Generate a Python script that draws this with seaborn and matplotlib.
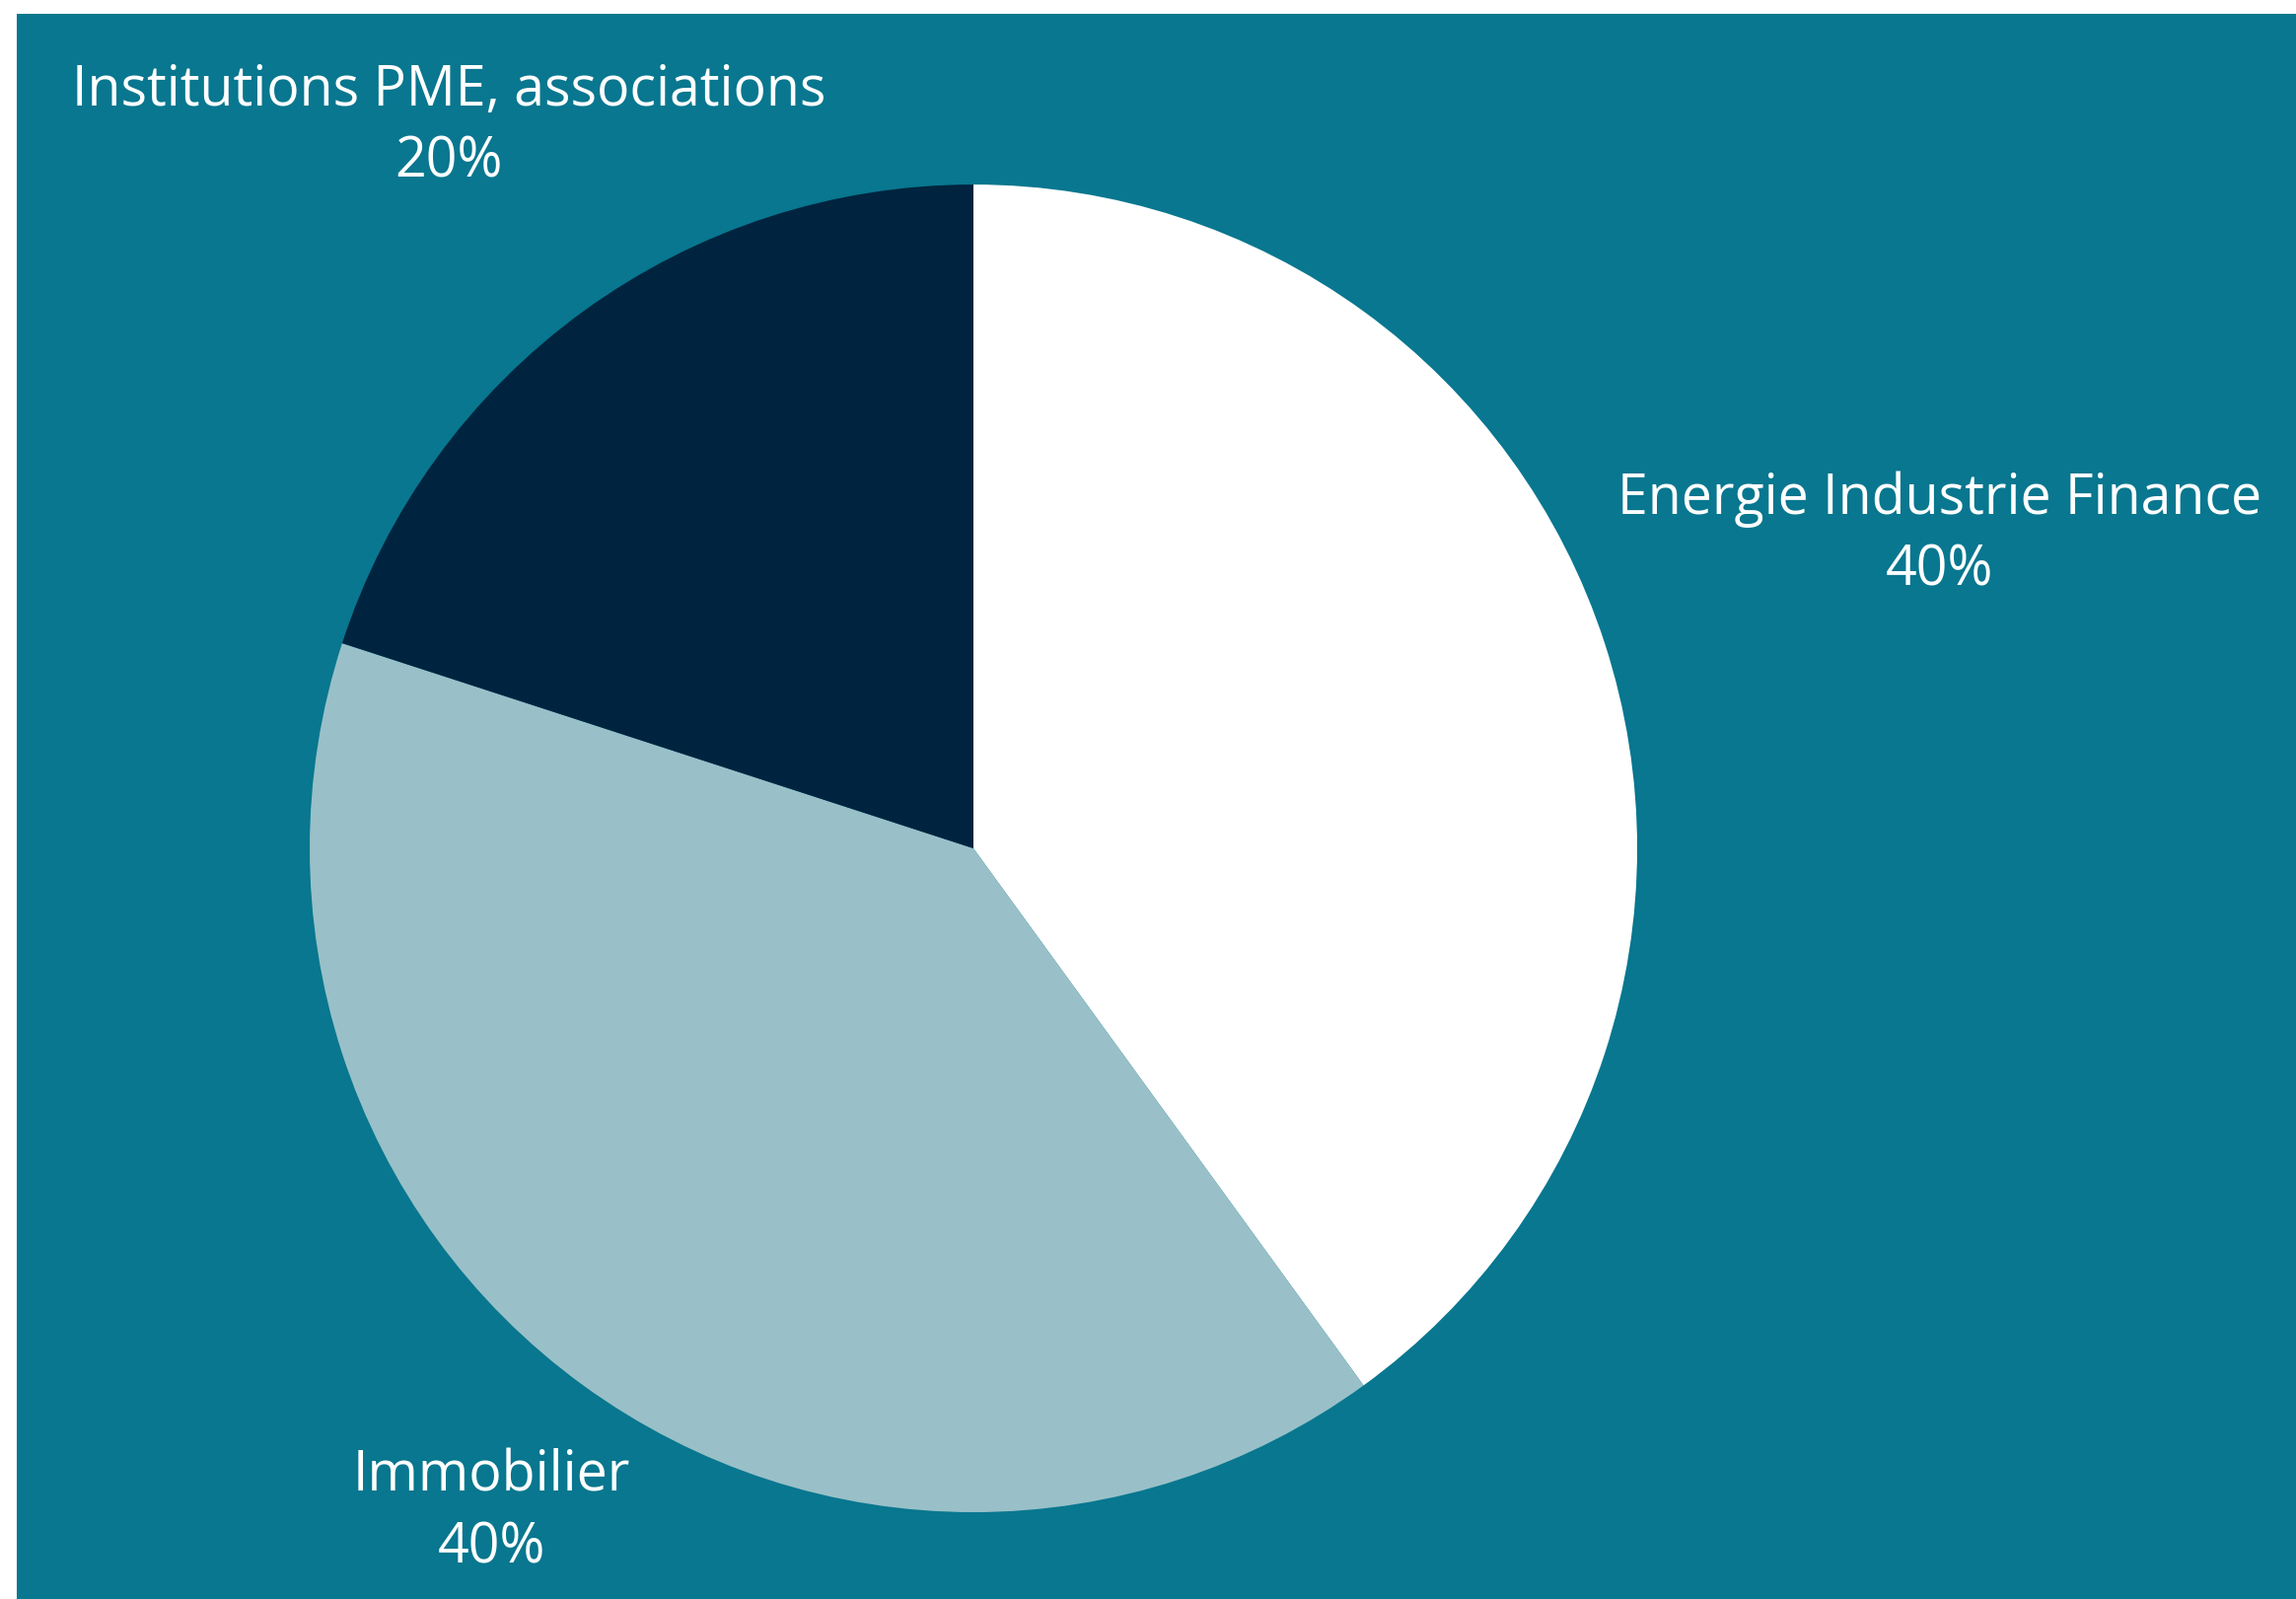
import numpy as np
import matplotlib
matplotlib.use("Agg")
import matplotlib.pyplot as plt
import seaborn as sns

# data
categories = ["Energie Industrie Finance", "Immobilier", "Institutions PME, associations"]
shares = [40, 40, 20]
pct_labels = ["40%", "40%", "20%"]

colors = ["#FFFFFF", "#99C0C8", "#00243F"]
teal = "#08778F"

sns.set_style("white")
plt.rcParams['font.family'] = ['Open Sans', 'DejaVu Sans']

W, H = 2328, 1622
fig = plt.figure(figsize=(W / 100, 16.219), dpi=100, facecolor="white")

# teal panel with thin white margin on the left and top
bg = fig.add_axes([17 / W, 0, 1 - 17 / W, 1 - 15 / H])
bg.set_facecolor(teal)
bg.set_xticks([])
bg.set_yticks([])
for s in bg.spines.values():
    s.set_visible(False)

ax = fig.add_axes([0, 0, 1, 1])
ax.set_facecolor("none")

wedges, _ = ax.pie(shares, colors=colors, startangle=90, counterclock=False,
                   wedgeprops=dict(linewidth=0))

# pie centre at (987, 861) px, radius 673 px
r_px = 673
cx, cy = 987, H - 861
ax.set_xlim(-cx / r_px, (W - cx) / r_px)
ax.set_ylim(-cy / r_px, (H - cy) / r_px)
ax.set_aspect("auto")
ax.axis("off")

# labels outside, along each slice's middle angle
label_dist = [1.53, 1.235, 1.345]
for w, name, pct, d in zip(wedges, categories, pct_labels, label_dist):
    mid = np.deg2rad((w.theta1 + w.theta2) / 2)
    ax.text(d * np.cos(mid), d * np.sin(mid), f"{name}\n{pct}",
            ha="center", va="center", color="white", fontsize=40,
            linespacing=1.36)

fig.savefig("out.png", dpi=100, facecolor="white")
